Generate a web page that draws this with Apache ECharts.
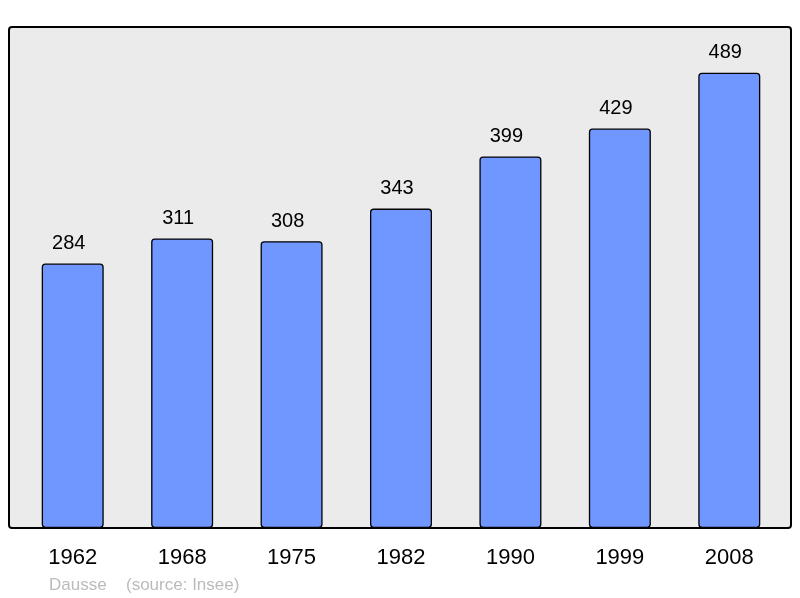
<!DOCTYPE html>
<html>
<head>
  <meta charset="utf-8">
  <script src="https://cdn.jsdelivr.net/npm/echarts@6/dist/echarts.min.js"></script>
  <style>
    html, body { margin: 0; padding: 0; background: #fff; }
  </style>
</head>
<body>
<div id="main" style="width:800px;height:598px;"></div>
<script type="text/javascript">
var years = ['1962', '1968', '1975', '1982', '1990', '1999', '2008'];
var population = [284, 311, 308, 343, 399, 429, 489];

var myChart = echarts.init(document.getElementById('main'));

myChart.setOption({
  animation: false,
  textStyle: { fontFamily: 'Liberation Sans, Arial, sans-serif' },
  grid: { left: 18, right: 16, top: 27, bottom: 70 },
  graphic: [
    {
      type: 'rect',
      z: -10,
      shape: { x: 9, y: 27, width: 782, height: 501, r: 3 },
      style: { fill: '#ebebeb', stroke: '#000', lineWidth: 2 }
    },
    {
      type: 'text',
      left: 49,
      top: 577,
      style: { text: 'Dausse', fill: '#bbbbbb', font: '17px Liberation Sans, Arial, sans-serif' }
    },
    {
      type: 'text',
      left: 126,
      top: 577,
      style: { text: '(source: Insee)', fill: '#bbbbbb', font: '17px Liberation Sans, Arial, sans-serif' }
    }
  ],
  xAxis: {
    type: 'category',
    data: years,
    axisLine: { show: false },
    axisTick: { show: false },
    axisLabel: { color: '#000', fontSize: 22, margin: 19 }
  },
  yAxis: {
    type: 'value',
    min: 0,
    max: 538,
    show: false,
    splitLine: { show: false }
  },
  series: [{
    type: 'bar',
    data: population,
    barWidth: 62,
    itemStyle: {
      color: '#7096ff',
      borderColor: '#000',
      borderWidth: 1.3,
      borderRadius: 3
    },
    label: {
      show: true,
      position: 'top',
      distance: 10,
      offset: [-4, 0],
      color: '#000',
      fontSize: 20
    }
  }]
});
</script>
</body>
</html>
